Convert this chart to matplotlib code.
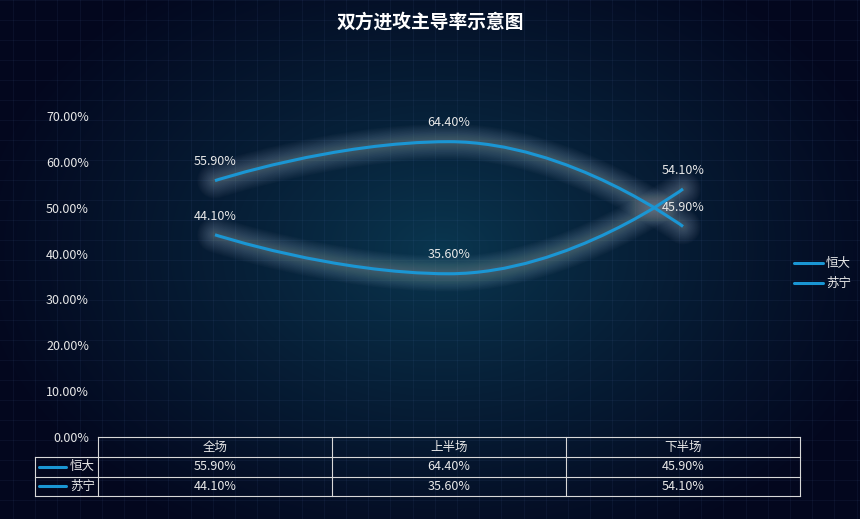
import numpy as np
import matplotlib
matplotlib.use('Agg')
import matplotlib.pyplot as plt
from matplotlib.path import Path
from matplotlib.patches import PathPatch

plt.rcParams['font.family'] = ['Noto Sans CJK SC', 'DejaVu Sans']

title = '双方进攻主导率示意图'
categories = ['全场', '上半场', '下半场']
series_names = ['恒大', '苏宁']
hengda = [55.90, 64.40, 45.90]
suning = [44.10, 35.60, 54.10]
y_ticks = [0, 10, 20, 30, 40, 50, 60, 70]

series_values = [hengda, suning]
LINE_COLOR = '#1a96d4'
TEXT_COLOR = '#e8e8e8'

W, H = 860, 519
fig = plt.figure(figsize=(W / 100, H / 100), dpi=100)

# ---------- background ----------
bg = fig.add_axes([0, 0, 1, 1], zorder=0)
bg.set_xlim(0, W)
bg.set_ylim(H, 0)
bg.axis('off')
yy, xx = np.mgrid[0:H, 0:W]
r = np.sqrt(((xx - 440) / 470.0) ** 2 + ((yy - 250) / 330.0) ** 2)
t = np.clip(r, 0, 1) ** 0.85
c_center = np.array([10, 55, 80]) / 255.0
c_edge = np.array([3, 7, 30]) / 255.0
img = c_center[None, None, :] * (1 - t[..., None]) + c_edge[None, None, :] * t[..., None]
bg.imshow(img, extent=[0, W, H, 0], aspect='auto', interpolation='bilinear', zorder=0)
for gx in np.arange(13, W, 22.2):
    bg.plot([gx, gx], [0, H], color='#6080c0', alpha=0.08, lw=0.8, zorder=1)
for gy in np.arange(0, H, 20):
    bg.plot([0, W], [gy, gy], color='#6080c0', alpha=0.08, lw=0.8, zorder=1)

# ---------- title ----------
fig.text(0.5, 1 - 22 / H, title, ha='center', va='center', color='white',
         fontsize=13.5, fontweight='bold')

# ---------- main axes ----------
L, R, T, B = 98, 800, 116, 437
ax = fig.add_axes([L / W, (H - B) / H, (R - L) / W, (B - T) / H], zorder=2)
ax.patch.set_alpha(0)
ax.set_xlim(0, len(categories))
ax.set_ylim(0, 70)
for s in ax.spines.values():
    s.set_visible(False)
ax.set_xticks([])
ax.set_yticks(y_ticks)
ax.set_yticklabels(['%.2f%%' % v for v in y_ticks])
ax.tick_params(axis='y', length=0, pad=6.5, labelsize=9, labelcolor=TEXT_COLOR)


def echarts_smooth(pts, smooth=0.5):
    n = len(pts)
    verts = [tuple(pts[0])]
    codes = [Path.MOVETO]
    cpx0, cpy0 = pts[0]
    for i in range(1, n):
        x, y = pts[i]
        prevX, prevY = pts[i - 1]
        if i + 1 >= n:
            cpx1, cpy1 = x, y
            ncx, ncy = x, y
        else:
            nextX, nextY = pts[i + 1]
            vx = nextX - prevX
            vy = nextY - prevY
            lp = np.hypot(x - prevX, y - prevY)
            ln = np.hypot(nextX - x, nextY - y)
            ratio = ln / (ln + lp)
            ncx = x + vx * smooth * ratio
            ncy = y + vy * smooth * ratio
            ncx = max(min(ncx, max(nextX, x)), min(nextX, x))
            ncy = max(min(ncy, max(nextY, y)), min(nextY, y))
            vx = ncx - x
            vy = ncy - y
            cpx1 = x - vx * lp / ln
            cpy1 = y - vy * lp / ln
            cpx1 = max(min(cpx1, max(prevX, x)), min(prevX, x))
            cpy1 = max(min(cpy1, max(prevY, y)), min(prevY, y))
            vx = x - cpx1
            vy = y - cpy1
            ncx = x + vx * ln / lp
            ncy = y + vy * ln / lp
        verts += [(cpx0, cpy0), (cpx1, cpy1), (x, y)]
        codes += [Path.CURVE4] * 3
        cpx0, cpy0 = ncx, ncy
    return np.array(verts), codes


xpos = np.arange(len(categories)) + 0.5
for vals in series_values:
    disp = ax.transData.transform(np.column_stack([xpos, vals]))
    verts, codes = echarts_smooth(disp)
    dverts = ax.transData.inverted().transform(verts)
    path = Path(dverts, codes)
    # soft glow
    for lw in np.linspace(26, 3, 26):
        ax.add_patch(PathPatch(path, facecolor='none', edgecolor='#c8d0d8',
                               lw=lw, alpha=0.014, capstyle='round',
                               joinstyle='round', zorder=2))
    ax.add_patch(PathPatch(path, facecolor='none', edgecolor=LINE_COLOR,
                           lw=2.2, capstyle='butt', zorder=3))
    for xv, v in zip(xpos, vals):
        ax.annotate('%.2f%%' % v, (xv, v), xytext=(0, 13.5), textcoords='offset points',
                    ha='center', va='center', color=TEXT_COLOR, fontsize=9, zorder=4)

# ---------- legend (right) ----------
for k, name in enumerate(series_names):
    ly = 263 + k * 20
    bg.plot([794, 823], [ly, ly], color=LINE_COLOR, lw=2.2, zorder=3,
            solid_capstyle='round')
    bg.text(826, ly, name, ha='left', va='center', color=TEXT_COLOR, fontsize=9, zorder=3)

# ---------- data table ----------
tc = '#d8d8d8'
tlw = 0.8
ncol = len(categories)
col_edges = [L + i * (R - L) / ncol for i in range(ncol + 1)]
rows_y = [437, 457, 476.5, 496]
LL = 35
bg.plot([L, R], [rows_y[0], rows_y[0]], color=tc, lw=tlw, zorder=3)
for yv in rows_y[1:]:
    bg.plot([LL, R], [yv, yv], color=tc, lw=tlw, zorder=3)
for xv in col_edges:
    bg.plot([xv, xv], [rows_y[0], rows_y[-1]], color=tc, lw=tlw, zorder=3)
bg.plot([LL, LL], [rows_y[1], rows_y[-1]], color=tc, lw=tlw, zorder=3)

for i, cat in enumerate(categories):
    cx = (col_edges[i] + col_edges[i + 1]) / 2
    bg.text(cx, (rows_y[0] + rows_y[1]) / 2, cat, ha='center', va='center',
            color=TEXT_COLOR, fontsize=9, zorder=3)
for k, (name, vals) in enumerate(zip(series_names, series_values)):
    cy = (rows_y[k + 1] + rows_y[k + 2]) / 2
    bg.plot([39, 66], [cy, cy], color=LINE_COLOR, lw=2.2, zorder=3, solid_capstyle='round')
    bg.text(95, cy, name, ha='right', va='center', color=TEXT_COLOR, fontsize=9, zorder=3)
    for i, v in enumerate(vals):
        cx = (col_edges[i] + col_edges[i + 1]) / 2
        bg.text(cx, cy, '%.2f%%' % v, ha='center', va='center',
                color=TEXT_COLOR, fontsize=9, zorder=3)

fig.savefig('out.png', dpi=100)
